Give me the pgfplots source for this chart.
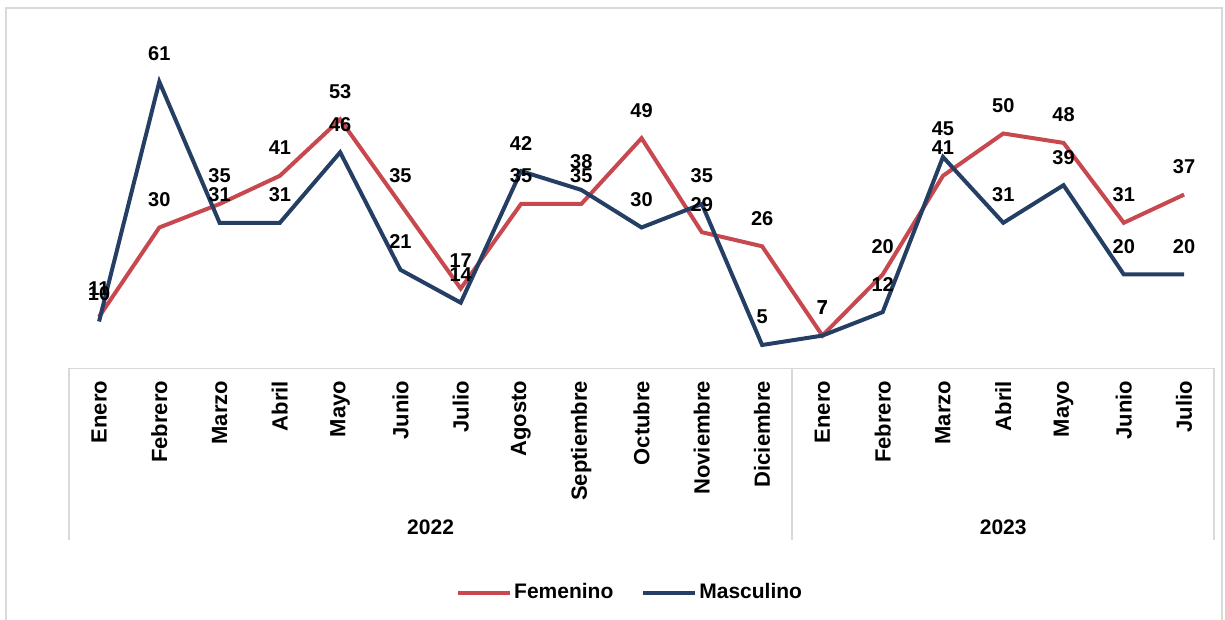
\documentclass[border=0pt]{standalone}
\usepackage{fontspec}
\setmainfont{Liberation Sans}
\usepackage{pgfplots}
\pgfplotsset{compat=1.18}

\definecolor{fem}{RGB}{200,72,80}
\definecolor{masc}{RGB}{36,62,100}
\definecolor{frame}{RGB}{217,217,217}

\begin{document}
\begin{tikzpicture}
% 1 px of the reference = 0.5pt
\useasboundingbox (0,0) rectangle (612.5pt,310pt);
\draw[frame, line width=0.8pt] (3pt,-2pt) -- (3pt,306pt) -- (611pt,306pt) -- (611pt,-2pt);
\begin{axis}[
    at={(34.45pt,125.75pt)}, anchor=south west,
    x=30.14pt, y=2.35pt,
    xmin=-0.5, xmax=18.5, ymin=0, ymax=70,
    clip=false,
    axis line style={draw=none},
    major tick length=0pt,
    ytick=\empty,
    xtick={0,...,18},
    xticklabels={Enero,Febrero,Marzo,Abril,Mayo,Junio,Julio,Agosto,Septiembre,Octubre,Noviembre,Diciembre,
                 Enero,Febrero,Marzo,Abril,Mayo,Junio,Julio},
    xticklabel style={rotate=90, anchor=east, inner xsep=6pt, inner ysep=0pt,
                      font=\bfseries\fontsize{11}{13}\selectfont},
    /pgf/number format/assume math mode=true,
    nodes near coords,
    every node near coord/.append style={anchor=center, yshift=14pt, font=\bfseries, text=black},
    legend columns=2,
    legend image code/.code={\draw[#1, line width=2pt] (0pt,0pt) -- (26pt,0pt);},
    legend style={draw=none, fill=none, at={(0.49,-0.682)}, anchor=center,
                  font=\bfseries\fontsize{10.5}{12}\selectfont,
                  nodes={inner xsep=1pt},
                  /tikz/every even column/.append style={column sep=13pt}},
]
\addplot[fem, line width=2pt] coordinates {
    (0,11) (1,30) (2,35) (3,41) (4,53) (5,35) (6,17) (7,35) (8,35) (9,49) (10,29) (11,26)
    (12,7) (13,20) (14,41) (15,50) (16,48) (17,31) (18,37)};
\addlegendentry{Femenino}
\addplot[masc, line width=2pt] coordinates {
    (0,10) (1,61) (2,31) (3,31) (4,46) (5,21) (6,14) (7,42) (8,38) (9,30) (10,35) (11,5)
    (12,7) (13,12) (14,45) (15,31) (16,39) (17,20) (18,20)};
\addlegendentry{Masculino}
% category axis frame
\draw[frame, line width=0.8pt] (axis cs:-0.5,-36.5) -- (axis cs:-0.5,0) -- (axis cs:18.5,0) -- (axis cs:18.5,-36.5);
\draw[frame, line width=0.8pt] (axis cs:11.5,0) -- (axis cs:11.5,-36.5);
\node[font=\bfseries\fontsize{10.5}{12}\selectfont] at (axis cs:5.5,-33.7) {2022};
\node[font=\bfseries\fontsize{10.5}{12}\selectfont] at (axis cs:15,-33.7) {2023};
\end{axis}
\end{tikzpicture}
\end{document}
